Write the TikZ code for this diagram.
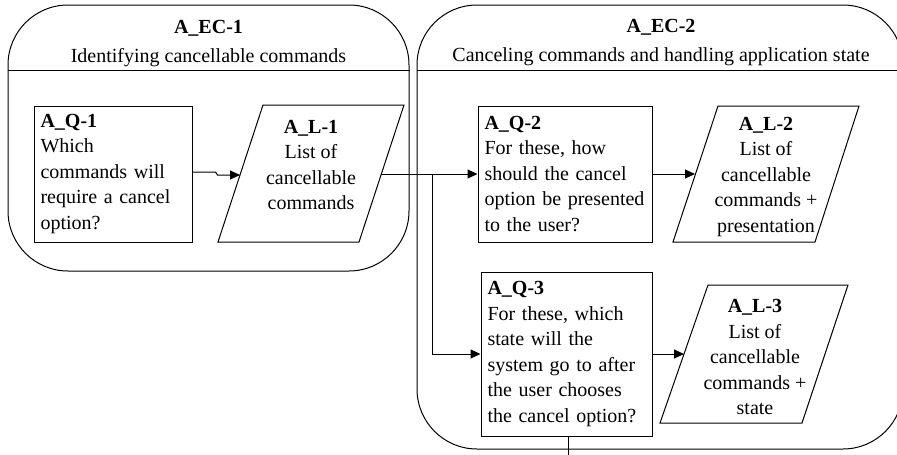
\documentclass[tikz,border=0pt]{standalone}
\usepackage{fontspec}
\setmainfont{Liberation Serif}
\usetikzlibrary{arrows.meta}
\begin{document}
\begin{tikzpicture}[x=1pt,y=-1pt,
  every node/.style={font=\fontsize{20}{25.5}\selectfont, inner sep=0pt},
  container/.style={draw, line width=1pt, rounded corners=60pt},
  qbox/.style={draw, line width=1pt, rectangle, align=left, inner xsep=6.5pt, inner ysep=0pt},
  lshape/.style={draw, line width=1pt},
  conn/.style={line width=1pt},
  arr/.style={conn, -{Triangle[length=10pt,width=9pt]}}]
\useasboundingbox (0,0) rectangle (897,455);

% containers
\node[container, minimum width=401pt, minimum height=266pt] (EC1) at (208.5,138) {};
\node[container, minimum width=486pt, minimum height=444pt] (EC2) at (660,227) {};
\coordinate (d1) at (0,70);
\draw[conn] (EC1.west |- d1) -- (EC1.east |- d1);
\draw[conn] (EC2.west |- d1) -- (EC2.east |- d1);

% headers
\node[anchor=base] (EC1id) at (208.5,33) {\textbf{A\_EC-1}};
\node[anchor=base] (EC1title) at (208.5,62) {Identifying cancellable commands};
\node[anchor=base] (EC2id) at (661,32) {\textbf{A\_EC-2}};
\node[anchor=base] (EC2title) at (661,61) {Canceling commands and handling application state};

% question boxes
\node[qbox, text width=145pt, minimum height=136pt] (Q1) at (113,174)
  {\textbf{A\_Q-1}\\Which\\commands will\\require a cancel\\option?};
\node[qbox, text width=161pt, minimum height=136pt] (Q2) at (565,174)
  {\textbf{A\_Q-2}\\For these, how\\should the cancel\\option be presented\\to the user?};
\node[qbox, text width=158pt, minimum height=164pt] (Q3) at (566.5,354)
  {\textbf{A\_Q-3}\\For these, which\\state will the\\system go to after\\the user chooses\\the cancel option?};

% list parallelograms
\draw[lshape] (263,105) -- (404,105) -- (359,242) -- (218,242) -- cycle;
\node[align=center] (L1) at (311,165) {\textbf{A\_L-1}\\List of\\cancellable\\commands};
\draw[lshape] (718,106) -- (859,106) -- (815,242) -- (673,242) -- cycle;
\node[align=center] (L2) at (766,177) {\textbf{A\_L-2}\\List of\\cancellable\\commands +\\presentation};
\draw[lshape] (708,285) -- (848,285) -- (802,423) -- (660,423) -- cycle;
\node[align=center] (L3) at (755,357) {\textbf{A\_L-3}\\List of\\cancellable\\commands +\\state};

% connector points
\coordinate (L1in) at (240,175);
\coordinate (L1out) at (381,174);
\coordinate (J) at (432,174);
\coordinate (L2in) at (695,174);
\coordinate (L3in) at (684,354);
\coordinate (Q3out) at (568,458);

% connectors
\draw[arr] ([yshift=2pt]Q1.east) -- ++(23,0) -- ++(2,3) -- (L1in);
\draw[arr] (L1out) -- (Q2.west);
\draw[arr] (J) |- (Q3.west);
\draw[arr] (Q2.east) -- (L2in);
\draw[arr] (Q3.east) -- (L3in);
\draw[conn] (Q3.south -| Q3out) -- (Q3out);
\end{tikzpicture}
\end{document}
